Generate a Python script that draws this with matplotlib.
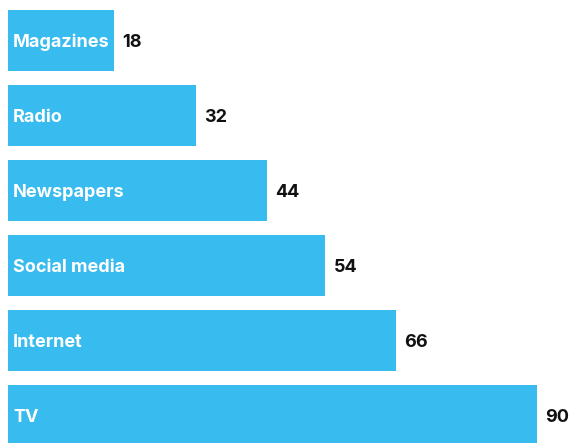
import matplotlib
matplotlib.use("Agg")
import matplotlib.pyplot as plt

categories = ["Magazines", "Radio", "Newspapers", "Social media", "Internet", "TV"]
values = [18, 32, 44, 54, 66, 90]

bar_color = "#38BBEE"

fig = plt.figure(figsize=(5.71, 4.43), dpi=100)
ax = fig.add_axes([0, 0, 1, 1])

pos = list(range(len(categories)))
ax.barh(pos, values, height=0.813, color=bar_color)

# labels sit a touch below the bar centre
for y, cat, v in zip(pos, categories, values):
    ax.text(0.85, y + 0.025, cat, color="white", fontsize=13, fontweight="bold",
            family="Inter", va="center", ha="left")
    ax.text(v + 1.4, y + 0.025, str(v), color="#111111", fontsize=13,
            fontweight="bold", family="Inter", va="center", ha="left")

ax.set_xlim(-1.361, 95.78)
ax.set_ylim(5.367, -0.54)
ax.axis("off")

fig.savefig("out.png", dpi=100)
